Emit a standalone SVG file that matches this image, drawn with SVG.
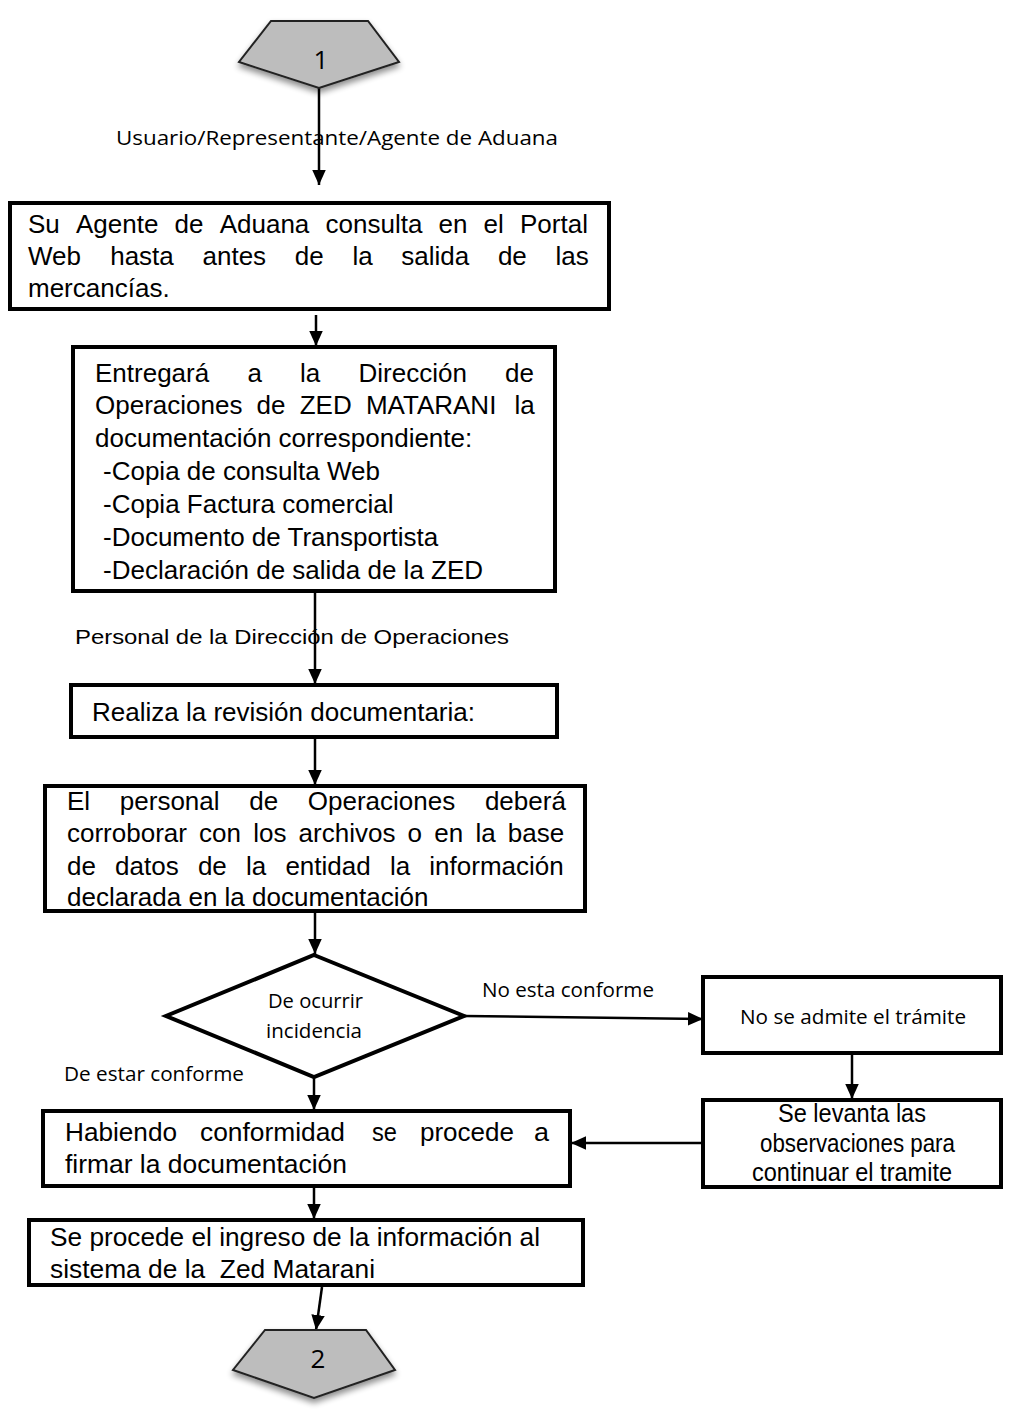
<svg xmlns="http://www.w3.org/2000/svg" width="1009" height="1414" viewBox="0 0 1009 1414">
  <defs>
    <marker id="arrow" viewBox="0 0 10 10" refX="10" refY="5" markerWidth="6" markerHeight="6" orient="auto" markerUnits="strokeWidth">
      <path d="M0,0.5 L10,5 L0,9.5 z" fill="#000"/>
    </marker>
    <filter id="soft" x="-20%" y="-20%" width="140%" height="160%">
      <feGaussianBlur in="SourceAlpha" stdDeviation="3"/>
      <feOffset dx="0" dy="4" result="b"/>
      <feComponentTransfer><feFuncA type="linear" slope="0.45"/></feComponentTransfer>
      <feMerge><feMergeNode/><feMergeNode in="SourceGraphic"/></feMerge>
    </filter>
  </defs>
  <style>
    .box { fill: #fff; stroke: #000; stroke-width: 4; }
    .off { fill: #bdbdbd; stroke: #222; stroke-width: 2; }
    .edge { stroke: #000; stroke-width: 2.5; fill: none; marker-end: url(#arrow); }
    .t { font-family: "Liberation Sans", Arial, sans-serif; font-size: 26px; fill: #000; }
    .n { font-family: "Liberation Sans", Arial, sans-serif; font-size: 25px; fill: #000; white-space: pre; }
    .c { font-family: "Open Sans", "Noto Sans", sans-serif; font-size: 20px; fill: #000; }
    .lbl { font-family: "Liberation Sans", Arial, sans-serif; font-size: 21px; fill: #000; }
    .num { font-family: "Open Sans", "Noto Sans", sans-serif; font-size: 26px; fill: #000; text-anchor: middle; }
  </style>
  <rect width="1009" height="1414" fill="#fff"/>

  <!-- connectors -->
  <g id="connectors">
    <line class="edge" x1="319" y1="88" x2="319" y2="185"/>
    <line class="edge" x1="316" y1="315" x2="316" y2="346"/>
    <line class="edge" x1="315" y1="591" x2="315" y2="684"/>
    <line class="edge" x1="315" y1="737" x2="315" y2="785"/>
    <line class="edge" x1="315" y1="911" x2="315" y2="954"/>
    <line class="edge" x1="464" y1="1016" x2="703" y2="1019"/>
    <line class="edge" x1="852" y1="1053" x2="852" y2="1099"/>
    <line class="edge" x1="703" y1="1143" x2="571" y2="1143"/>
    <line class="edge" x1="314" y1="1077" x2="314" y2="1110"/>
    <line class="edge" x1="314" y1="1186" x2="314" y2="1219"/>
    <line class="edge" x1="322" y1="1287" x2="316" y2="1330"/>
    <text class="c" x="116" y="145" textLength="442" lengthAdjust="spacingAndGlyphs">Usuario/Representante/Agente de Aduana</text>
    <text class="lbl" x="75" y="644" textLength="434" lengthAdjust="spacingAndGlyphs">Personal de la Dirección de Operaciones</text>
    <text class="c" x="482" y="997" textLength="172" lengthAdjust="spacingAndGlyphs">No esta conforme</text>
    <text class="c" x="64" y="1081" textLength="180" lengthAdjust="spacingAndGlyphs">De estar conforme</text>
  </g>

  <!-- off-page connector 1 -->
  <g id="start1">
    <polygon class="off" filter="url(#soft)" points="271,21 368,21 399,62 319,88 239,62"/>
    <text class="num" x="321" y="69">1</text>
  </g>

  <!-- justified lines are set word by word -->
  <g id="consulta">
    <rect class="box" x="10" y="203" width="599" height="106"/>
    <text class="t" y="233"><tspan x="28">Su</tspan> <tspan x="76">Agente</tspan> <tspan x="174.6">de</tspan> <tspan x="219.7">Aduana</tspan> <tspan x="325.5">consulta</tspan> <tspan x="438.5">en</tspan> <tspan x="483.6">el</tspan> <tspan x="520">Portal</tspan></text>
    <text class="t" y="265"><tspan x="28">Web</tspan> <tspan x="110.2">hasta</tspan> <tspan x="202.5">antes</tspan> <tspan x="294.8">de</tspan> <tspan x="352.4">la</tspan> <tspan x="401.3">salida</tspan> <tspan x="497.9">de</tspan> <tspan x="555.5">las</tspan></text>
    <text class="t" x="28" y="297">mercancías.</text>
  </g>

  <g id="entrega">
    <rect class="box" x="73" y="347" width="482" height="244"/>
    <text class="t" y="382"><tspan x="95">Entregará</tspan> <tspan x="247.4">a</tspan> <tspan x="300.1">la</tspan> <tspan x="358.5">Dirección</tspan> <tspan x="505">de</tspan></text>
    <text class="t" y="414"><tspan x="95">Operaciones</tspan> <tspan x="256.6">de</tspan> <tspan x="299.7">ZED</tspan> <tspan x="365.9">MATARANI</tspan> <tspan x="514.4">la</tspan></text>
    <text class="t" x="95" y="447">documentación correspondiente:</text>
    <text class="t" x="103" y="480">-Copia de consulta Web</text>
    <text class="t" x="103" y="513">-Copia Factura comercial</text>
    <text class="t" x="103" y="546">-Documento de Transportista</text>
    <text class="t" x="103" y="579">-Declaración de salida de la ZED</text>
  </g>

  <g id="revision">
    <rect class="box" x="71" y="685" width="486" height="52"/>
    <text class="t" x="92" y="721">Realiza la revisión documentaria:</text>
  </g>

  <g id="corroborar">
    <rect class="box" x="45" y="786" width="540" height="125"/>
    <text class="t" y="810"><tspan x="67">El</tspan> <tspan x="119.8">personal</tspan> <tspan x="249.2">de</tspan> <tspan x="307.8">Operaciones</tspan> <tspan x="484.9">deberá</tspan></text>
    <text class="t" y="842"><tspan x="67">corroborar</tspan> <tspan x="199.1">con</tspan> <tspan x="253.2">los</tspan> <tspan x="298.6">archivos</tspan> <tspan x="407.6">o</tspan> <tspan x="434.3">en</tspan> <tspan x="475.4">la</tspan> <tspan x="507.8">base</tspan></text>
    <text class="t" y="875"><tspan x="67">de</tspan> <tspan x="115.1">datos</tspan> <tspan x="197.9">de</tspan> <tspan x="246">la</tspan> <tspan x="285.4">entidad</tspan> <tspan x="389.9">la</tspan> <tspan x="429.3">información</tspan></text>
    <text class="t" x="67" y="906">declarada en la documentación</text>
  </g>

  <g id="decision">
    <polygon points="314,955 464,1016 314,1077 166,1016" fill="#fff" stroke="#000" stroke-width="4" stroke-linejoin="miter"/>
    <text class="c" x="268" y="1008" textLength="95" lengthAdjust="spacingAndGlyphs">De ocurrir</text>
    <text class="c" x="266" y="1038" textLength="96" lengthAdjust="spacingAndGlyphs">incidencia</text>
  </g>

  <g id="no-admite">
    <rect class="box" x="703" y="977" width="298" height="76"/>
    <text class="c" x="740" y="1024" textLength="226" lengthAdjust="spacingAndGlyphs">No se admite el trámite</text>
  </g>

  <g id="levanta">
    <rect class="box" x="703" y="1100" width="298" height="87"/>
    <text class="n" x="778" y="1122" textLength="148" lengthAdjust="spacingAndGlyphs">Se levanta las</text>
    <text class="n" x="760" y="1152" textLength="195" lengthAdjust="spacingAndGlyphs">observaciones para</text>
    <text class="n" x="752" y="1181" textLength="200" lengthAdjust="spacingAndGlyphs">continuar el tramite</text>
  </g>

  <g id="firmar">
    <rect class="box" x="43" y="1111" width="527" height="75"/>
    <text class="n" y="1141"><tspan x="65" textLength="112" lengthAdjust="spacingAndGlyphs">Habiendo</tspan> <tspan x="200" textLength="145" lengthAdjust="spacingAndGlyphs">conformidad</tspan> <tspan x="372" textLength="25" lengthAdjust="spacingAndGlyphs">se</tspan> <tspan x="420" textLength="94" lengthAdjust="spacingAndGlyphs">procede</tspan> <tspan x="534" textLength="15" lengthAdjust="spacingAndGlyphs">a</tspan></text>
    <text class="n" x="65" y="1173" textLength="282" lengthAdjust="spacingAndGlyphs">firmar la documentación</text>
  </g>

  <g id="ingreso">
    <rect class="box" x="29" y="1220" width="554" height="65"/>
    <text class="n" x="50" y="1246" textLength="490" lengthAdjust="spacingAndGlyphs">Se procede el ingreso de la información al</text>
    <text class="n" x="50" y="1278" textLength="325" lengthAdjust="spacingAndGlyphs">sistema de la  Zed Matarani</text>
  </g>

  <!-- off-page connector 2 -->
  <g id="end2">
    <polygon class="off" filter="url(#soft)" points="265,1330 366,1330 395,1370 314,1398 233,1370"/>
    <text class="num" x="318" y="1368" font-size="22">2</text>
  </g>
</svg>
